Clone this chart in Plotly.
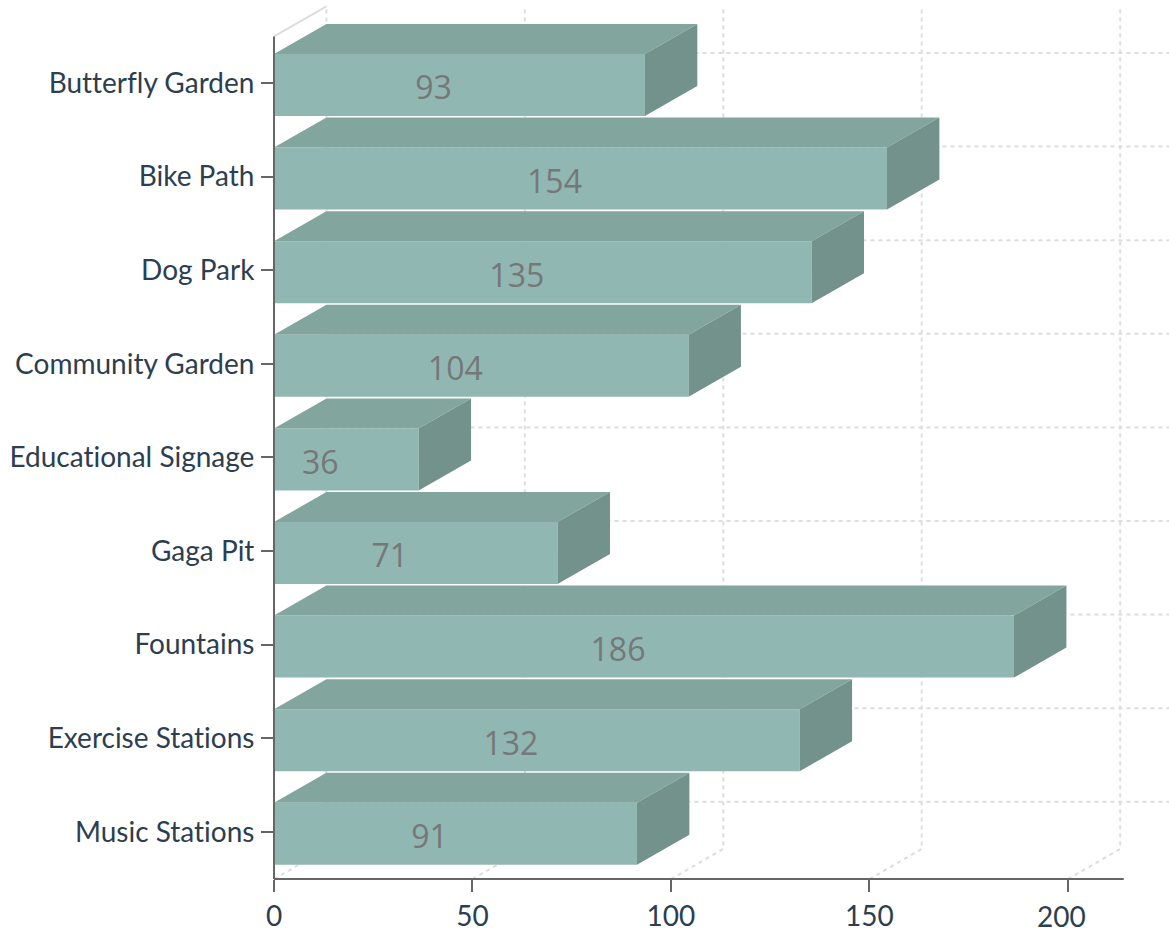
import plotly.graph_objects as go

categories = ["Butterfly Garden", "Bike Path", "Dog Park", "Community Garden",
              "Educational Signage", "Gaga Pit", "Fountains", "Exercise Stations",
              "Music Stations"]
values = [93, 154, 135, 104, 36, 71, 186, 132, 91]
x_ticks = [0, 50, 100, 150, 200]

# pixel geometry of the oblique projection, converted to axis units
PX_X = 3.969
PX_Y = 93.6
DX = 52.4 / PX_X
DY = 30 / PX_Y
HALF = 31 / PX_Y
Y_NUDGE = 2 / PX_Y
X_NUDGE = 0.45
LABEL_DX = 26 / PX_X
LABEL_DY = 6.3 / PX_Y
AXIS_END = 214.1
X_MAX = 225.5
Y_TOP = -0.497
Y_BOT = 8.504

FRONT = "#90b7b1"
TOP = "#82a69e"
SIDE = "#73928b"
GRID = "#dddddd"
AXIS = "#666666"
INK = "#2c3e50"
LABEL = "#757779"

ys = list(range(len(categories)))
fig = go.Figure()
shapes = []


def grid_path(x, y, dash="4px,4px"):
    d = "M " + " L ".join(f"{a},{b}" for a, b in zip(x, y))
    shapes.append(dict(type="path", path=d, xref="x", yref="y", layer="below",
                       line=dict(color=GRID, width=2, dash=dash)))


def poly(x, y, color):
    fig.add_trace(go.Scatter(x=x, y=y, mode="lines", fill="toself", fillcolor=color,
                             line=dict(width=0, color=color), hoverinfo="skip", showlegend=False))


# horizontal grid lines on the back wall
for i in ys:
    grid_path([DX, X_MAX], [i - DY, i - DY])
# vertical grid lines: floor diagonal then back wall
for t in x_ticks:
    grid_path([t, t + DX, t + DX], [Y_BOT, Y_BOT - DY, Y_TOP - DY])
# top-left edge of the back wall
grid_path([0, DX], [Y_TOP, Y_TOP - DY], dash="solid")

# 3D faces of each bar
for i, v in zip(ys, values):
    c = i + Y_NUDGE
    end = v + X_NUDGE
    poly([0, end, end + DX, DX, 0],
         [c - HALF, c - HALF, c - HALF - DY, c - HALF - DY, c - HALF], TOP)
    poly([end, end + DX, end + DX, end, end],
         [c - HALF, c - HALF - DY, c + HALF - DY, c + HALF, c - HALF], SIDE)

fig.add_trace(go.Bar(y=[i + Y_NUDGE for i in ys], x=[v + X_NUDGE for v in values],
                     orientation="h", width=2 * HALF, marker=dict(color=FRONT, line=dict(width=0)),
                     hoverinfo="skip", showlegend=False))

fig.add_trace(go.Scatter(x=[(v + X_NUDGE) / 2 - LABEL_DX for v in values],
                         y=[i + Y_NUDGE + LABEL_DY for i in ys],
                         mode="text", text=[str(v) for v in values], textposition="middle center",
                         textfont=dict(family="Open Sans", size=32, color=LABEL),
                         hoverinfo="skip", showlegend=False))

# axis lines (paper refs keep them from being clipped at the plot edge)
shapes.append(dict(type="line", xref="paper", x0=0, x1=0, yref="y", y0=Y_TOP, y1=Y_BOT,
                   layer="above", line=dict(color=AXIS, width=2)))
shapes.append(dict(type="line", xref="x", x0=0, x1=AXIS_END, yref="paper", y0=0, y1=0,
                   layer="above", line=dict(color=AXIS, width=2)))

fig.update_layout(
    width=1169, height=928,
    margin=dict(l=274, r=0, t=0, b=49, autoexpand=False),
    paper_bgcolor="white", plot_bgcolor="white",
    barmode="overlay",
    font=dict(family="Lato", color=INK),
    shapes=shapes,
    annotations=[dict(text=str(x_ticks[-1]), x=x_ticks[-1], xref="x", y=0, yref="paper",
                      yanchor="top", yshift=-18, xshift=-6.5, showarrow=False,
                      font=dict(family="Lato", size=28, color=INK))],
    xaxis=dict(range=[0, X_MAX], tickvals=x_ticks, automargin=False,
               ticktext=[str(t) for t in x_ticks[:-1]] + [""],
               showgrid=False, zeroline=False, showline=False,
               ticks="outside", ticklen=12, tickwidth=2, tickcolor=AXIS,
               tickfont=dict(family="Lato", size=28, color=INK)),
    yaxis=dict(range=[8.504, -0.8868], tickvals=ys, ticktext=categories, showgrid=False,
               automargin=False, zeroline=False, showline=False, ticks="outside", ticklen=12,
               tickwidth=2, tickcolor=AXIS, ticklabelstandoff=1,
               tickfont=dict(family="Lato", size=28, color=INK)),
)

css = ("var s=document.createElement('style');"
       "s.textContent='svg text{font-variant-ligatures:none !important}';"
       "document.head.appendChild(s);")
fig.write_html("out.html", config=dict(displayModeBar=False),
               post_script="document.body.style.margin='0';document.body.style.overflow='hidden';" + css)
